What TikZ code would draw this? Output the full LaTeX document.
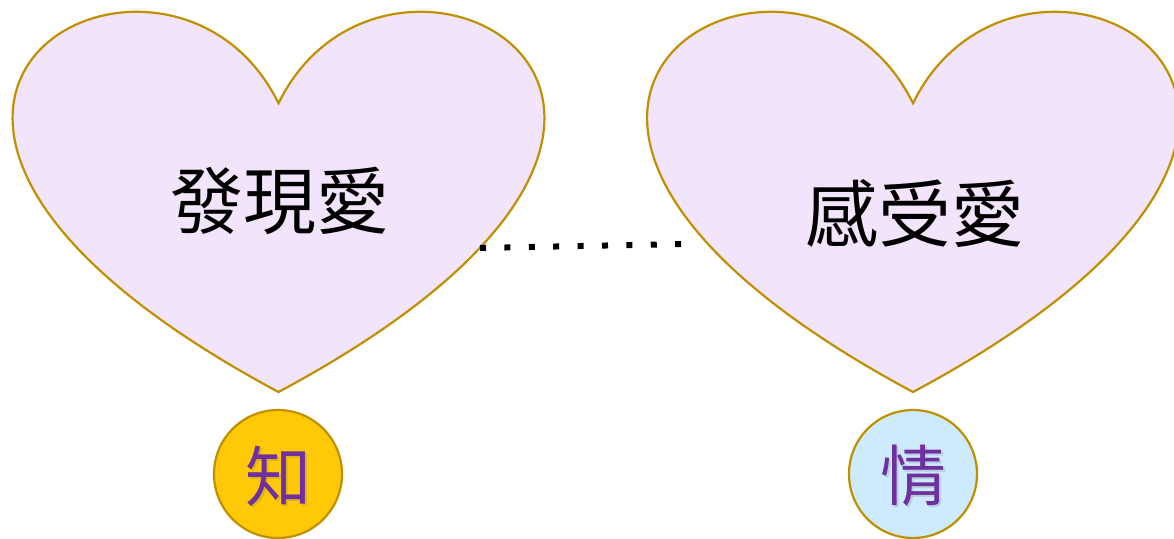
\documentclass[tikz,border=0pt]{standalone}
\usepackage{fontspec}
\newfontfamily\cjk{Noto Sans CJK TC}
\definecolor{heartfill}{HTML}{F2E4FB}
\definecolor{goldline}{HTML}{BF9000}
\definecolor{zhifill}{HTML}{FFC907}
\definecolor{qingfill}{HTML}{CDEBFD}
\definecolor{purpletxt}{HTML}{7030A0}
\tikzset{
  heartshape/.style={draw=goldline, fill=heartfill, line width=2.2pt},
  bubble/.style={circle, draw=goldline, line width=2.2pt, minimum size=128pt, inner sep=0pt},
  hearttext/.style={font=\cjk\fontsize{73}{73}\selectfont, text=black, inner sep=0pt},
  bubbletext/.style={font=\cjk\fontsize{66}{66}\selectfont, text=purpletxt, inner sep=0pt},
  dotline/.style={line width=6pt, line cap=butt, dash pattern=on 6pt off 18.4pt}
}
\begin{document}
\begin{tikzpicture}[x=1pt,y=-1pt]
\useasboundingbox[fill=white] (0,0) rectangle (1174,538);
% left heart
\path[heartshape] (278.5,103.25) .. controls (388.5,-121.33) and (817.5,103.25) .. (278.5,392)
  .. controls (-260.5,103.25) and (168.5,-121.33) .. (278.5,103.25) -- cycle;
% right heart
\path[heartshape] (913,103.25) .. controls (1023,-121.33) and (1452,103.25) .. (913,392)
  .. controls (374,103.25) and (803,-121.33) .. (913,103.25) -- cycle;
\node[hearttext] (faxian) at (280,201) {發現愛};
\node[hearttext] (ganshou) at (915,214) {感受愛};
% dotted connector
\coordinate (dotA) at (480,248);
\coordinate (dotB) at (682,244);
\draw[dotline] (dotA) -- (dotB);
% circles
\node[bubble, fill=zhifill] (zhi) at (278,474) {};
\node[bubble, fill=qingfill] (qing) at (913,474) {};
\node[bubbletext, text=black!60, opacity=0.2] at (280,478) {知};
\node[bubbletext] (zhitext) at (278,476) {知};
\node[bubbletext, text=black!60, opacity=0.2] at (915,478) {情};
\node[bubbletext] (qingtext) at (913,476) {情};
\end{tikzpicture}
\end{document}
